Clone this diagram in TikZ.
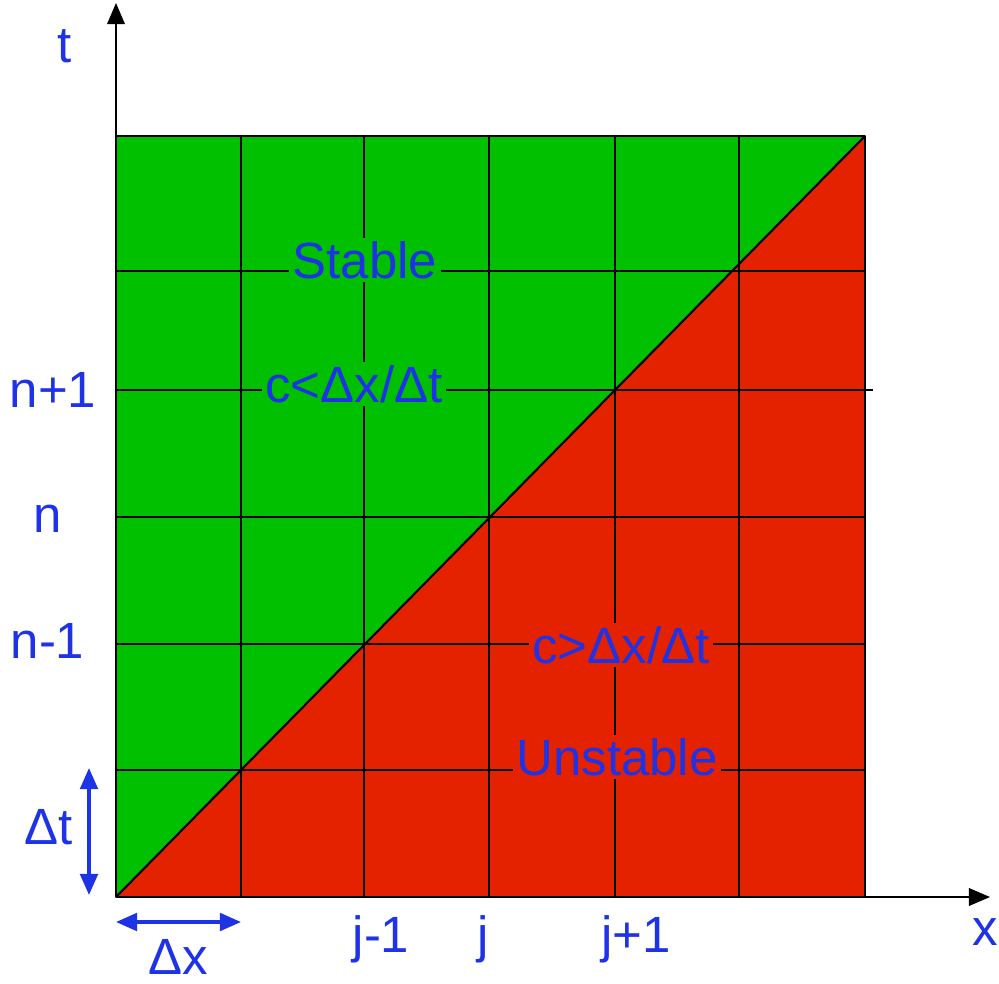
\documentclass[tikz,border=0pt]{standalone}
\usepackage{fontspec}
\setmainfont{Liberation Sans}
\usetikzlibrary{arrows.meta}
\definecolor{stablegreen}{RGB}{0,192,0}
\definecolor{unstablered}{RGB}{229,34,0}
\definecolor{labelblue}{RGB}{30,50,230}

\begin{document}
\begin{tikzpicture}[>={Triangle[length=6pt,width=5pt]}, line join=round, font=\fontsize{14.5}{17}\selectfont,
    lbl/.style={text=labelblue, inner sep=1pt, anchor=base},
    gridline/.style={black, line width=.6pt}]
  \useasboundingbox (0,0) rectangle (9.99,9.83);
  \coordinate (o) at (1.16,0.86);
  \coordinate (br) at (8.65,0.86);
  \coordinate (tr) at (8.65,8.47);
  % stable / unstable regions
  \fill[stablegreen] (o) rectangle (tr);
  \fill[unstablered] (o) -- (br) -- (tr) -- cycle;
  \foreach \x in {2.41,3.64,4.89,6.15,7.39}
    \draw[gridline] (\x,0.86) -- (\x,8.47);
  \foreach \y in {2.13,3.39,4.66,7.12}
    \draw[gridline] (1.16,\y) -- (8.65,\y);
  \draw[gridline] (1.16,5.93) -- (8.73,5.93);
  \draw[gridline] (o) -- (tr);
  \draw[line width=.8pt] (o) rectangle (tr);
  % axes
  \coordinate (tend) at (1.16,9.80);
  \coordinate (xend) at (9.90,0.86);
  \draw[->, line width=.5pt] (o) -- (tend);
  \draw[->, line width=.5pt] (o) -- (xend);
  \node[lbl] (tlab) at (0.65,9.21) {t};
  \node[lbl] (xlab) at (9.85,0.38) {x};
  % step sizes
  \coordinate (dtlo) at (0.89,0.88);
  \coordinate (dthi) at (0.89,2.15);
  \coordinate (dxlo) at (1.16,0.61);
  \coordinate (dxhi) at (2.41,0.61);
  \draw[<->, labelblue, line width=1pt] (dtlo) -- (dthi);
  \draw[<->, labelblue, line width=1pt] (dxlo) -- (dxhi);
  \node[lbl] (dt) at (0.49,1.39) {Δt};
  \node[lbl] (dx) at (1.78,0.09) {Δx};
  % time levels
  \node[lbl] (np) at (0.53,5.76) {n+1};
  \node[lbl] (nn) at (0.475,4.51) {n};
  \node[lbl] (nm) at (0.475,3.25) {n-1};
  % space points
  \node[lbl] (jm) at (3.81,0.31) {j-1};
  \node[lbl] (jj) at (4.83,0.31) {j};
  \node[lbl] (jp) at (6.36,0.31) {j+1};
  % region labels
  \node[lbl, fill=stablegreen] (stab) at (3.65,7.05) {Stable};
  \node[lbl, fill=stablegreen] (cless) at (3.54,5.81) {c<Δx/Δt};
  \node[lbl, fill=unstablered] (cmore) at (6.21,3.20) {c>Δx/Δt};
  \node[lbl, fill=unstablered] (unstab) at (6.17,2.08) {Unstable};
\end{tikzpicture}
\end{document}
